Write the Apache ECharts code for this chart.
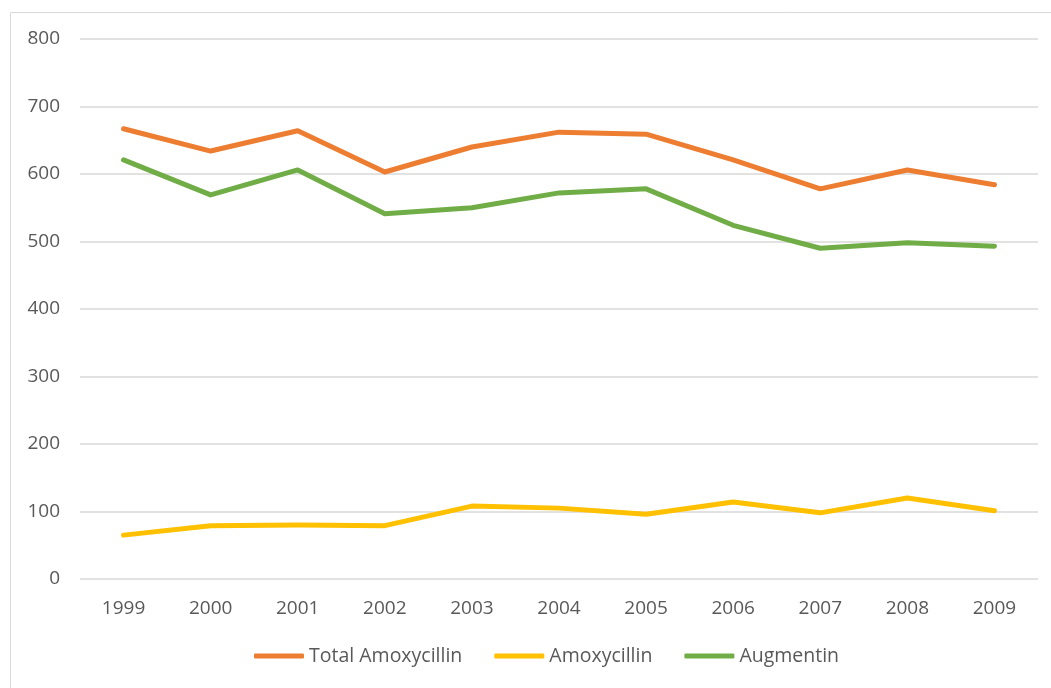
<!DOCTYPE html>
<html>
<head>
<meta charset="utf-8">
<script src="https://cdn.jsdelivr.net/npm/echarts@6/dist/echarts.min.js"></script>
<style>
  html, body { margin: 0; padding: 0; background: #fff; }
  #chart { width: 1051px; height: 688px; }
</style>
</head>
<body>
<div id="chart"></div>
<script>
const years = ['1999', '2000', '2001', '2002', '2003', '2004', '2005', '2006', '2007', '2008', '2009'];
const totalAmoxycillin = [667, 634, 664, 603, 640, 662, 659, 621, 578, 606, 584];
const amoxycillin = [65, 79, 80, 79, 108, 105, 96, 114, 98, 120, 101];
const augmentin = [621, 569, 606, 541, 550, 572, 578, 524, 490, 498, 493];

const TEXT_COLOR = '#595959';
const FONT = 'Open Sans';

const chart = echarts.init(document.getElementById('chart'), null, { renderer: 'canvas' });

function lineSeries(name, data, color) {
  return {
    name: name,
    type: 'line',
    data: data,
    symbol: 'none',
    lineStyle: { width: 5, color: color, cap: 'round', join: 'round' },
    itemStyle: { color: color },
    animation: false
  };
}

chart.setOption({
  backgroundColor: '#fff',
  graphic: [{
    type: 'rect',
    shape: { x: 10.5, y: 12.5, width: 1100, height: 700 },
    style: { fill: 'none', stroke: '#d9d9d9', lineWidth: 1 },
    silent: true
  }],
  grid: { left: 80, right: 13, top: 39, bottom: 109, containLabel: false },
  legend: {
    bottom: 17,
    left: 249,
    icon: 'roundRect',
    itemWidth: 50,
    itemHeight: 5,
    itemGap: 32,
    textStyle: { color: TEXT_COLOR, fontSize: 19.5, fontFamily: FONT }
  },
  xAxis: {
    type: 'category',
    data: years,
    boundaryGap: true,
    axisLine: { show: false },
    axisTick: { show: false },
    axisLabel: { color: TEXT_COLOR, fontSize: 19, fontFamily: FONT, margin: 20 }
  },
  yAxis: {
    type: 'value',
    min: 0,
    max: 800,
    interval: 100,
    axisLine: { show: false },
    axisTick: { show: false },
    axisLabel: { color: TEXT_COLOR, fontSize: 19, fontFamily: FONT, margin: 20 },
    splitLine: { lineStyle: { color: '#d9d9d9', width: 1.5 } }
  },
  series: [
    lineSeries('Total Amoxycillin', totalAmoxycillin, '#ED7D31'),
    lineSeries('Amoxycillin', amoxycillin, '#FFC000'),
    lineSeries('Augmentin', augmentin, '#70AD47')
  ]
});
</script>
</body>
</html>
